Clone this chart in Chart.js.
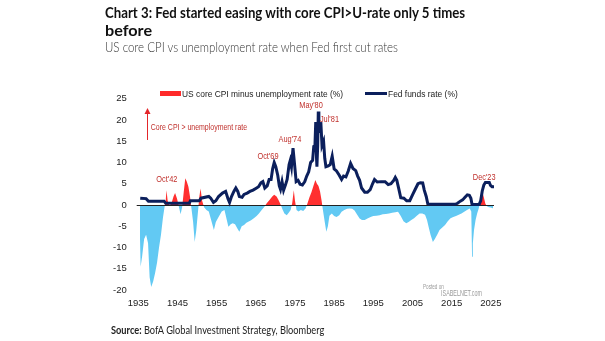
<!DOCTYPE html>
<html>
<head>
<meta charset="utf-8">
<script src="https://cdn.jsdelivr.net/npm/chart.js@4.4.1/dist/chart.umd.min.js"></script>
<style>
  body { margin: 0; background: #fff; }
  #page { position: relative; width: 605px; height: 341px; overflow: hidden; background: #fff; }
  #myChart { position: absolute; left: 0; top: 0; }
  .txt { position: absolute; white-space: nowrap; transform-origin: 0 0; line-height: 1; }
  .title { font-family: Lato, "Open Sans", sans-serif; font-weight: 700; font-size: 15.5px; color: #111; }
  .sub { font-family: Lato, "Open Sans", sans-serif; font-weight: 300; font-size: 13.5px; color: #333; }
  .src { font-family: Lato, "Open Sans", sans-serif; font-size: 10.5px; color: #222; }
  .leg { font-family: "Liberation Sans Narrow", "Liberation Sans", sans-serif; font-size: 9.5px; color: #222; }
  .wm { font-family: "Liberation Sans", sans-serif; color: #9a9a9a; }
  .sw { position: absolute; }
</style>
</head>
<body>
<div id="page">
  <canvas id="myChart" width="605" height="341"></canvas>

  <div class="txt title" style="left:105px; top:5px;" data-w="360">Chart 3: Fed started easing with core CPI&gt;U-rate only 5 times</div>
  <div class="txt title" style="left:105px; top:23px;" data-w="47">before</div>
  <div class="txt sub" style="left:105px; top:41px;" data-w="293">US core CPI vs unemployment rate when Fed first cut rates</div>

  <div class="sw" style="left:160px; top:91px; width:21px; height:5px; background:#ff2a2a;"></div>
  <div class="txt leg" style="left:182px; top:88.5px;" data-w="161">US core CPI minus unemployment rate (%)</div>
  <div class="sw" style="left:365px; top:92px; width:22px; height:3px; background:#0b1f5c;"></div>
  <div class="txt leg" style="left:388px; top:88.5px;" data-w="70">Fed funds rate (%)</div>

  <div class="txt wm" style="left:423px; top:283px; font-size:7.5px;" data-w="21">Posted on</div>
  <div class="txt wm" style="left:441px; top:289px; font-size:9px;" data-w="41">ISABELNET.com</div>

  <div class="txt src" style="left:111px; top:325px;" data-w="213"><b>Source:</b> BofA Global Investment Strategy, Bloomberg</div>
</div>

<script>
// x axis labels
const xTicks = [1935, 1945, 1955, 1965, 1975, 1985, 1995, 2005, 2015, 2025];

// core CPI minus unemployment rate (%)
const gapYears = [1935.4, 1935.6, 1936.0, 1936.5, 1937.0, 1937.5, 1937.9, 1938.3, 1938.8, 1939.3,
  1939.8, 1940.3, 1940.8, 1941.3, 1941.7, 1942.0, 1942.2, 1942.5, 1943.0, 1943.5,
  1944.0, 1944.4, 1944.9, 1945.4, 1945.8, 1946.2, 1946.6, 1947.0, 1947.4, 1947.8,
  1948.2, 1948.6, 1949.0, 1949.4, 1949.8, 1950.2, 1950.6, 1950.9, 1951.3, 1951.8,
  1952.4, 1953.0, 1953.6, 1954.3, 1954.8, 1955.5, 1956.3, 1957.0, 1957.6, 1958.0,
  1958.6, 1959.1, 1959.7, 1960.3, 1960.8, 1961.4, 1962.0, 1962.6, 1963.2, 1963.8,
  1964.5, 1965.2, 1965.8, 1966.5, 1967.2, 1967.8, 1968.5, 1969.2, 1969.7, 1970.3,
  1970.8, 1971.3, 1971.8, 1972.3, 1972.9, 1973.4, 1973.9, 1974.3, 1974.7, 1975.0,
  1975.4, 1975.9, 1976.5, 1977.1, 1977.7, 1978.2, 1978.7, 1979.2, 1979.7, 1980.2,
  1980.6, 1981.0, 1981.4, 1981.8, 1982.1, 1982.6, 1983.0, 1983.4, 1983.8, 1984.4,
  1985.0, 1985.6, 1986.3, 1986.9, 1987.6, 1988.3, 1989.0, 1989.6, 1990.2, 1990.8,
  1991.5, 1992.1, 1992.8, 1993.5, 1994.3, 1995.0, 1995.8, 1996.6, 1997.4, 1998.2,
  1999.0, 1999.8, 2000.6, 2001.3, 2002.0, 2002.7, 2003.4, 2004.0, 2004.7, 2005.4,
  2006.1, 2006.8, 2007.5, 2008.2, 2008.7, 2009.1, 2009.6, 2010.2, 2010.7, 2011.3,
  2011.9, 2012.6, 2013.3, 2014.0, 2014.7, 2015.4, 2016.1, 2016.8, 2017.5, 2018.2,
  2018.9, 2019.6, 2020.0, 2020.2, 2020.4, 2020.7, 2021.1, 2021.5, 2021.9, 2022.2,
  2022.6, 2022.9, 2023.2, 2023.6, 2024.0, 2024.5, 2025.0, 2025.6];
const gapValues = [-6, -14.5, -12, -8, -7, -9, -17, -19.3, -18, -16,
  -13.5, -10, -7, -3, -0.5, 1, 3.5, 1, -0.3, 0.5,
  2, 2.8, 1.5, -0.5, -2.2, -0.5, 3, 6.3, 5.5, 4.3,
  2, -1, -4, -8.7, -6, -2, 2, 3.9, 1, -0.5,
  -1.2, -1.5, -3.5, -5.9, -4, -2.8, -1.5, -1.2, -3.5, -5.1,
  -4.5, -4.3, -4.5, -5.5, -6.3, -5, -4.7, -4.2, -3.9, -3.6,
  -3.1, -2.6, -2, -1.2, -0.4, 0.4, 1.2, 2, 2.4, 2,
  1.2, 0.2, -1, -2, -2.4, -1.8, -1.2, 0.5, 3.5, 1,
  -1.2, -1.5, -1.2, -1.4, -0.8, 0.4, 1.8, 3, 4.5, 5.9,
  5, 4.5, 3.2, 1, -1, -4, -6.3, -5, -2.5, -2,
  -2.6, -2.8, -2.4, -1.6, -1.2, -0.9, -0.8, -0.9, -1.3, -2.2,
  -3.2, -3.5, -3.5, -3.2, -2.8, -2.6, -2.5, -2.4, -2.2, -2.1,
  -2, -1.8, -1.7, -1.6, -2.6, -3.8, -4.3, -4, -3.5, -3.1,
  -2.5, -2, -2, -2.3, -3.5, -5.1, -7, -8.7, -8, -7,
  -5.9, -5.3, -4.7, -3.8, -3.1, -2.8, -2.6, -2.3, -2, -1.6,
  -1.2, -0.8, -1.5, -12.2, -9, -5.9, -3.5, -2, -0.8, 0.5,
  2.4, 2.8, 1.8, 0.3, -0.3, -0.5, -0.6, -0.8];

// Fed funds rate (%)
const fedYears = [1935.5, 1937.0, 1937.6, 1941.6, 1942.0, 1948.0, 1948.3, 1950.6, 1951.0, 1953.0,
  1953.5, 1954.2, 1954.8, 1955.5, 1956.5, 1957.3, 1957.9, 1958.3, 1958.8, 1959.4,
  1959.9, 1960.4, 1960.8, 1961.5, 1962.0, 1962.8, 1963.5, 1964.3, 1965.0, 1965.7,
  1966.3, 1966.8, 1967.3, 1967.9, 1968.4, 1968.9, 1969.3, 1969.7, 1970.1, 1970.6,
  1971.0, 1971.3, 1971.7, 1972.1, 1972.6, 1973.0, 1973.5, 1973.8, 1974.1, 1974.5,
  1974.9, 1975.3, 1975.8, 1976.3, 1976.9, 1977.5, 1978.0, 1978.5, 1979.0, 1979.5,
  1979.8, 1980.1, 1980.3, 1980.5, 1980.6, 1980.8, 1980.95, 1981.1, 1981.4, 1981.6,
  1981.9, 1982.3, 1982.6, 1982.9, 1983.5, 1984.0, 1984.5, 1985.0, 1985.6, 1986.3,
  1986.9, 1987.4, 1988.0, 1988.6, 1989.2, 1989.8, 1990.5, 1991.0, 1991.5, 1992.0,
  1992.8, 1993.5, 1994.2, 1994.8, 1995.3, 1996.0, 1997.0, 1998.0, 1998.8, 1999.5,
  2000.2, 2000.6, 2001.0, 2001.5, 2002.0, 2002.8, 2003.5, 2004.3, 2005.0, 2005.7,
  2006.4, 2007.0, 2007.6, 2008.0, 2008.5, 2008.9, 2009.5, 2012.0, 2015.9, 2016.5,
  2017.2, 2017.8, 2018.4, 2019.0, 2019.5, 2019.9, 2020.2, 2022.0, 2022.4, 2022.8,
  2023.2, 2023.6, 2024.6, 2024.9, 2025.3, 2025.8];
const fedValues = [1.6, 1.5, 0.9, 0.9, 0.4, 0.4, 1.0, 1.0, 1.6, 2.0,
  1.6, 0.6, 1.0, 2.0, 2.8, 3.2, 1.5, 0.6, 2.0, 3.2,
  4.0, 3.2, 2.0, 1.8, 2.5, 2.8, 3.2, 3.5, 3.9, 4.3,
  5.2, 5.5, 4.0, 4.5, 6.0, 6.0, 8.5, 10.0, 9.0, 7.0,
  4.5, 3.7, 5.5, 3.5, 4.8, 6.0, 9.5, 10.5, 9.0, 13.4,
  9.5, 5.5, 5.8, 4.9, 4.7, 5.5, 6.8, 7.8, 10.0, 10.5,
  13.8, 14.0, 19.5, 11.0, 9.0, 14.0, 22.0, 17.0, 19.0, 19.5,
  14.0, 15.0, 11.0, 9.0, 9.2, 9.5, 11.5, 8.5, 8.0, 7.0,
  6.0, 6.8, 6.6, 8.0, 9.8, 8.6, 8.1, 6.8, 5.8, 4.0,
  3.0, 3.0, 3.6, 5.0, 6.0, 5.4, 5.5, 5.5, 4.8, 5.0,
  5.8, 6.5, 5.8, 3.8, 1.7, 1.6, 1.0, 1.0, 2.4, 3.7,
  5.0, 5.25, 5.2, 3.5, 2.0, 0.3, 0.15, 0.15, 0.15, 0.4,
  0.9, 1.2, 1.8, 2.4, 2.3, 1.6, 0.1, 0.1, 1.0, 3.3,
  4.7, 5.3, 5.3, 4.6, 4.3, 4.3];

// dated call-outs (label, year, value where the label sits)
const noteLabels = ["Oct'42", "Oct'69", "Aug'74", "May'80", "Jul'81", "Dec'23"];
const noteYears  = [1942.3, 1968.1, 1973.7, 1979.1, 1983.8, 2023.3];
const noteValues = [5.9, 11.4, 15.5, 23.4, 20.2, 6.35];
const arrowText = "Core CPI > unemployment rate";

// narrow font check
function hasFont(name) {
  const c = document.createElement('canvas').getContext('2d');
  c.font = '20px monospace';
  const a = c.measureText('abcdefghijklmWM').width;
  c.font = '20px "' + name + '", monospace';
  return c.measureText('abcdefghijklmWM').width !== a;
}
const narrow = hasFont('Liberation Sans Narrow');
const tickFont = narrow ? '"Liberation Sans Narrow"' : '"Liberation Sans"';
const squeeze = narrow ? 1 : 0.82;

// fit html text to measured widths
document.querySelectorAll('.txt').forEach(el => {
  const w = +el.dataset.w;
  const natural = el.scrollWidth;
  if (w && natural) el.style.transform = 'scaleX(' + (w / natural) + ')';
});

const gapData = gapYears.map((y, i) => ({x: y, y: gapValues[i]}));
const fedData = fedYears.map((y, i) => ({x: y, y: fedValues[i]}));

const AREA_INDEX = 1;

const extras = {
  id: 'extras',
  afterDatasetDraw(chart, args) {
    if (args.index !== AREA_INDEX) return;
    const {ctx, chartArea} = chart;
    const ys = chart.scales.y;
    const y0 = Math.round(ys.getPixelForValue(0)) + 0.5;
    ctx.save();
    ctx.strokeStyle = '#222';
    ctx.lineWidth = 1;
    ctx.beginPath();
    ctx.moveTo(chartArea.left, y0);
    ctx.lineTo(chartArea.right, y0);
    ctx.stroke();
    ctx.restore();
  },
  afterDraw(chart) {
    const {ctx} = chart;
    const xs = chart.scales.x, ys = chart.scales.y;
    ctx.save();
    ctx.fillStyle = '#c0302c';
    ctx.textAlign = 'center';
    ctx.textBaseline = 'middle';
    ctx.font = '9px ' + tickFont;
    noteLabels.forEach((t, i) => {
      const px = xs.getPixelForValue(noteYears[i]);
      const py = ys.getPixelForValue(noteValues[i]);
      ctx.save();
      ctx.translate(px, py);
      ctx.scale(squeeze, 1);
      ctx.fillText(t, 0, 0);
      ctx.restore();
    });

    // arrow: core CPI above unemployment
    const ax = Math.round(xs.getPixelForValue(1937.15)) + 0.5;
    const aTop = ys.getPixelForValue(22.8);
    const aBot = ys.getPixelForValue(15.3);
    ctx.strokeStyle = '#e3262a';
    ctx.fillStyle = '#e3262a';
    ctx.lineWidth = 1;
    ctx.beginPath();
    ctx.moveTo(ax, aBot);
    ctx.lineTo(ax, aTop + 4);
    ctx.stroke();
    ctx.beginPath();
    ctx.moveTo(ax, aTop);
    ctx.lineTo(ax - 3, aTop + 6);
    ctx.lineTo(ax + 3, aTop + 6);
    ctx.closePath();
    ctx.fill();

    ctx.fillStyle = '#c0302c';
    ctx.textAlign = 'left';
    ctx.font = '8.5px ' + tickFont;
    ctx.translate(xs.getPixelForValue(1938.2), ys.getPixelForValue(18.2));
    ctx.scale(squeeze, 1);
    ctx.fillText(arrowText, 0, 0);
    ctx.restore();
  }
};

const config = {
  type: 'line',
  data: {
    datasets: [
      {
        label: 'Fed funds rate (%)',
        data: fedData,
        borderColor: '#0b1f5c',
        borderWidth: 3,
        pointRadius: 0,
        tension: 0,
        fill: false,
        order: 0
      },
      {
        label: 'US core CPI minus unemployment rate (%)',
        data: gapData,
        borderWidth: 0,
        borderColor: 'rgba(0,0,0,0)',
        pointRadius: 0,
        tension: 0,
        fill: {target: {value: 0}, above: '#ff2f2f', below: '#62c9f3'},
        order: 1
      }
    ]
  },
  options: {
    responsive: false,
    animation: false,
    devicePixelRatio: 1,
    layout: {padding: {left: 106.7, right: 111, top: 98.75, bottom: 31}},
    plugins: {
      legend: {display: false},
      tooltip: {enabled: false}
    },
    scales: {
      x: {
        type: 'linear',
        min: 1934.6,
        max: 2025.8,
        grid: {display: false, drawTicks: false},
        border: {display: false},
        afterBuildTicks: s => { s.ticks = xTicks.map(v => ({value: v})); },
        afterFit: s => { s.height = 20; },
        ticks: {
          padding: 8,
          maxRotation: 0,
          autoSkip: false,
          color: '#222',
          font: {family: tickFont, size: 9.5},
          callback: v => String(v)
        }
      },
      y: {
        min: -20,
        max: 25,
        grid: {display: false, drawTicks: false},
        border: {display: false},
        afterFit: s => { s.width = 30; },
        ticks: {
          stepSize: 5,
          padding: 10,
          color: '#222',
          font: {family: tickFont, size: 9.5},
          callback: v => String(v)
        }
      }
    }
  },
  plugins: [extras]
};

const myChart = new Chart(document.getElementById('myChart'), config);
</script>
</body>
</html>
